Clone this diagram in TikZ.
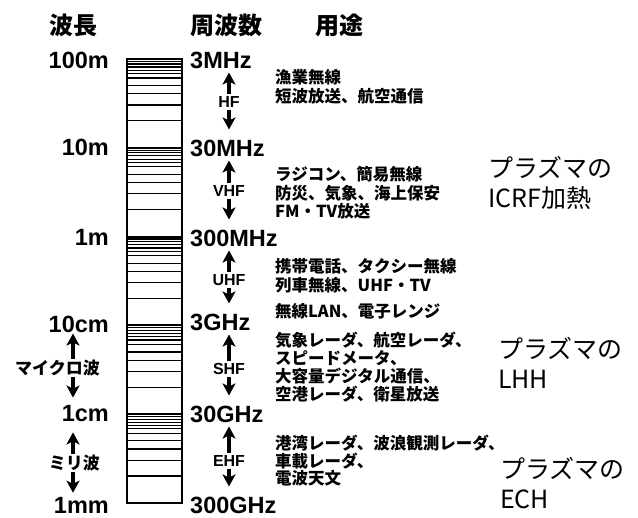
\documentclass[tikz,border=0pt]{standalone}
\usepackage{fontspec}
\usetikzlibrary{arrows.meta}
\newfontfamily\jp{Noto Sans CJK JP}
\newfontfamily\lib{Liberation Sans}
\begin{document}
\begin{tikzpicture}[x=1pt,y=-1pt,
  wl/.style={anchor=east, inner sep=0pt, font=\lib\bfseries\fontsize{23.5}{23.5}\selectfont},
  fq/.style={anchor=west, inner sep=0pt, font=\lib\bfseries\fontsize{23.5}{23.5}\selectfont},
  band/.style={inner sep=0pt, font=\lib\bfseries\fontsize{16}{16}\selectfont},
  usage/.style={anchor=west, align=left, inner sep=0pt, font=\jp\bfseries\fontsize{16.5}{18.5}\selectfont},
  big/.style={anchor=west, align=left, inner sep=0pt, font=\jp\fontsize{25}{30}\selectfont},
  hdr/.style={inner sep=0pt, font=\jp\bfseries\fontsize{24}{24}\selectfont},
  side/.style={anchor=east, inner sep=0pt, font=\jp\bfseries\fontsize{17}{17}\selectfont},
  arrowline/.style={line width=4pt, -{Stealth[length=12pt,width=13pt,inset=3pt]}},
  tickline/.style={line width=1.2pt},
  decade/.style={line width=2pt}]
\useasboundingbox (0,0) rectangle (638,518);
% headers
\node[hdr] (h1) at (73,25) {波長};
\node[hdr] (h2) at (226,25) {周波数};
\node[hdr] (h3) at (339,25) {用途};
% scale bar
\foreach \d in {0,...,4}{
  \pgfmathsetmacro{\ya}{59+88.8*\d}
  \foreach \f in {0.028,0.056,0.09,0.128,0.165,0.213,0.299,0.393,0.518,0.695}{
    \draw[tickline] (127,\ya+88.8*\f) -- (182,\ya+88.8*\f);
  }
  \draw[decade] (127,\ya) -- (182,\ya);
}
\draw[line width=1.8pt] (127,59) rectangle (182,503);
% wavelength labels
\node[wl] (w1) at (109,60) {100m};
\node[wl] (w2) at (109,147) {10m};
\node[wl] (w3) at (109,237) {1m};
\node[wl] (w4) at (109,324) {10cm};
\node[wl] (w5) at (109,414) {1cm};
\node[wl] (w6) at (109,505) {1mm};
% frequency labels
\node[fq] (f1) at (190,60) {3MHz};
\node[fq] (f2) at (190,148) {30MHz};
\node[fq] (f3) at (190,238) {300MHz};
\node[fq] (f4) at (190,322) {3GHz};
\node[fq] (f5) at (190,414) {30GHz};
\node[fq] (f6) at (190,505) {300GHz};
% band labels
\node[band] (b1) at (229,102) {HF};
\node[band] (b2) at (229,191) {VHF};
\node[band] (b3) at (229,280) {UHF};
\node[band] (b4) at (229,369) {SHF};
\node[band] (b5) at (229,461) {EHF};
\draw[arrowline, shorten <=2pt, shorten >=4pt] (b1.north) -- (b1.north |- f1.south);
\draw[arrowline, shorten <=2pt, shorten >=10pt] (b1.south) -- (b1.south |- f2.north);
\draw[arrowline, shorten <=2pt, shorten >=4pt] (b2.north) -- (b2.north |- f2.south);
\draw[arrowline, shorten <=2pt, shorten >=10pt] (b2.south) -- (b2.south |- f3.north);
\draw[arrowline, shorten <=2pt, shorten >=4pt] (b3.north) -- (b3.north |- f3.south);
\draw[arrowline, shorten <=2pt, shorten >=10pt] (b3.south) -- (b3.south |- f4.north);
\draw[arrowline, shorten <=2pt, shorten >=4pt] (b4.north) -- (b4.north |- f4.south);
\draw[arrowline, shorten <=2pt, shorten >=10pt] (b4.south) -- (b4.south |- f5.north);
\draw[arrowline, shorten <=2pt, shorten >=4pt] (b5.north) -- (b5.north |- f5.south);
\draw[arrowline, shorten <=2pt, shorten >=10pt] (b5.south) -- (b5.south |- f6.north);
% left band names
\node[side] (mw) at (100,368) {マイクロ波};
\node[side] (mm) at (100,463) {ミリ波};
\coordinate (ax) at (73,0);
\draw[arrowline, shorten <=1pt, shorten >=1pt] (ax |- mw.north) -- (ax |- w4.south);
\draw[arrowline, shorten <=1pt, shorten >=8pt] (ax |- mw.south) -- (ax |- w5.north);
\draw[arrowline, shorten <=1pt, shorten >=10pt] (ax |- mm.north) -- (ax |- w5.south);
\draw[arrowline, shorten <=1pt, shorten >=4pt] (ax |- mm.south) -- (ax |- w6.north);
% usages
\node[usage] (u1) at (275,86.5) {漁業無線\\短波放送、航空通信};
\node[usage] (u2) at (275,193) {ラジコン、簡易無線\\防災、気象、海上保安\\FM・TV放送};
\node[usage] (u3) at (275,275.5) {携帯電話、タクシー無線\\列車無線、UHF・TV};
\node[usage] (u4) at (275,311) {無線LAN、電子レンジ};
\node[usage, font=\jp\bfseries\fontsize{16.5}{18}\selectfont] (u5) at (275,367) {気象レーダ、航空レーダ、\\スピードメータ、\\大容量デジタル通信、\\空港レーダ、衛星放送};
\node[usage, font=\jp\bfseries\fontsize{16.5}{17.5}\selectfont] (u6) at (275,461) {港湾レーダ、波浪観測レーダ、\\車載レーダ、\\電波天文};
% plasma heating
\node[big] (p1) at (488,183) {プラズマの\\ICRF加熱};
\node[big] (p2) at (498,363) {プラズマの\\LHH};
\node[big] (p3) at (500,483) {プラズマの\\ECH};
\end{tikzpicture}
\end{document}
